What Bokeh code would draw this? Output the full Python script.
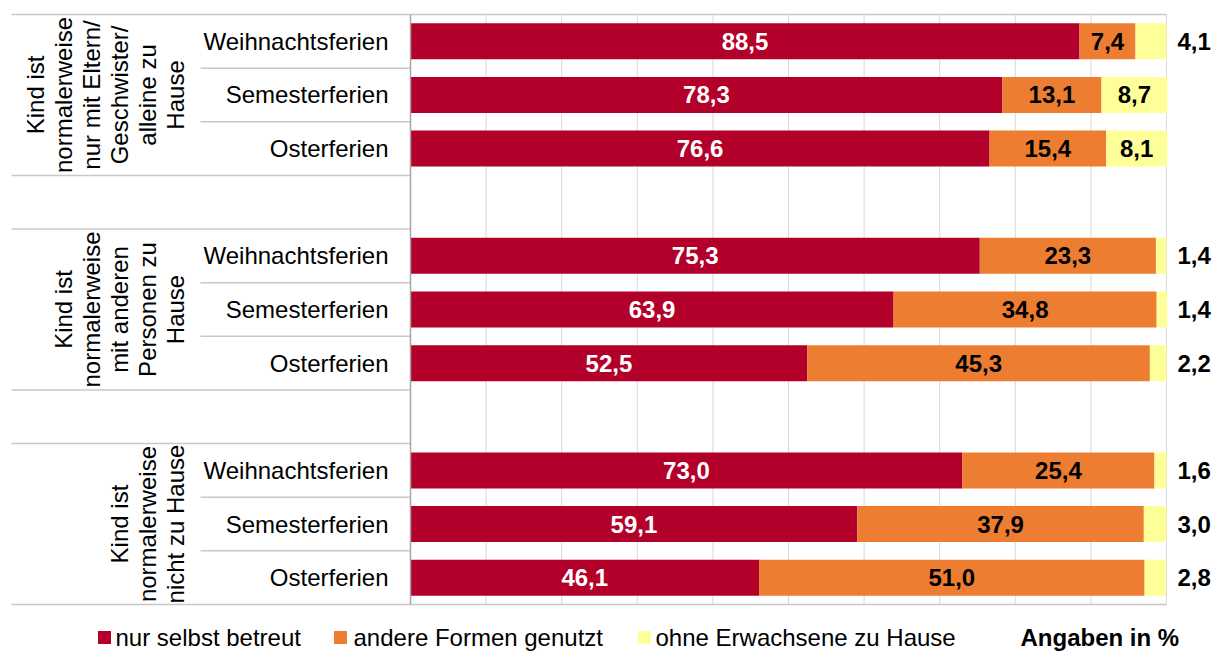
import math
from bokeh.plotting import figure
from bokeh.models import Range1d, ColumnDataSource
from bokeh.core.properties import value
from bokeh.embed import file_html
from bokeh.resources import INLINE

# ---------------- data ----------------
group_labels = [
    ["Kind ist", "normalerweise", "nur mit Eltern/", "Geschwister/", "alleine zu", "Hause"],
    ["Kind ist", "normalerweise", "mit anderen", "Personen zu", "Hause"],
    ["Kind ist", "normalerweise", "nicht zu Hause"],
]
periods = ["Weihnachtsferien", "Semesterferien", "Osterferien"]
series_names = ["nur selbst betreut", "andere Formen genutzt", "ohne Erwachsene zu Hause"]
selbst = [88.5, 78.3, 76.6, 75.3, 63.9, 52.5, 73.0, 59.1, 46.1]
andere = [7.4, 13.1, 15.4, 23.3, 34.8, 45.3, 25.4, 37.9, 51.0]
ohne = [4.1, 8.7, 8.1, 1.4, 1.4, 2.2, 1.6, 3.0, 2.8]
x_ticks = [10, 20, 30, 40, 50, 60, 70, 80, 90]
unit_note = "Angaben in %"

# ---------------- styling / layout ----------------
RED, ORANGE, YELLOW = "#B3002A", "#ED7D31", "#FFFF99"
GRID, AXIS, RULE = "#D9D9D9", "#A6A6A6", "#C8C8C8"
FONT = value("Liberation Sans")
FS = "24px"

W, H = 1214, 652
PX0, PX100 = 410, 1166      # pixel columns of 0 % and 100 %
PY0, PYN = 14, 604          # pixel rows of top / bottom of the slot area
N_SLOTS = 11
SX = (PX100 - PX0) / 100.0
SY = (PYN - PY0) / N_SLOTS


def xd(px):
    return (px - PX0) / SX


def yd(py):
    return -(py - PY0) / SY


p = figure(width=W, height=H,
           x_range=Range1d(xd(0), xd(W)), y_range=Range1d(yd(H), yd(0)),
           output_backend="svg", toolbar_location=None, min_border=0,
           x_axis_type=None, y_axis_type=None, outline_line_color=None)
p.background_fill_color = "white"
p.border_fill_color = "white"

# rows -> slots
slots = []
row_period = []
for g in range(len(group_labels)):
    for r in range(len(periods)):
        slots.append(4 * g + r)
        row_period.append(periods[r])
yc = [-(s + 0.5) for s in slots]
n_total = N_SLOTS

# vertical gridlines
p.segment(x0=x_ticks, y0=[0] * len(x_ticks), x1=x_ticks, y1=[-n_total] * len(x_ticks),
          line_color=GRID, line_width=1)
p.segment(x0=[100], y0=[0], x1=[100], y1=[-n_total], line_color=GRID, line_width=1)

# horizontal rules: top/bottom border and group separators
left_outer = xd(11)
p.segment(x0=[left_outer, left_outer], y0=[0, -n_total], x1=[100, 100], y1=[0, -n_total],
          line_color=RULE, line_width=1.5)
grp_lines = [-3, -4, -7, -8]
p.segment(x0=[left_outer] * 4, y0=grp_lines, x1=[0] * 4, y1=grp_lines,
          line_color=RULE, line_width=1.5)
inner_lines = [-1, -2, -5, -6, -9, -10]
p.segment(x0=[xd(200)] * 6, y0=inner_lines, x1=[0] * 6, y1=inner_lines,
          line_color=RULE, line_width=1.5)

# bars
end2 = [a + b for a, b in zip(selbst, andere)]
end3 = [a + b for a, b in zip(end2, ohne)]
src = ColumnDataSource(dict(y=yc, s=selbst, e2=end2, e3=end3))
BH = 36 / SY
p.hbar(y="y", left=0, right="s", height=BH, source=src, fill_color=RED, line_color=None)
p.hbar(y="y", left="s", right="e2", height=BH, source=src, fill_color=ORANGE, line_color=None)
p.hbar(y="y", left="e2", right="e3", height=BH, source=src, fill_color=YELLOW, line_color=None)

# y axis line
p.segment(x0=[0], y0=[0], x1=[0], y1=[-n_total], line_color=AXIS, line_width=1.5)


def fmt(v):
    return f"{v:.1f}".replace(".", ",")


# data labels
p.text(x=[v / 2 for v in selbst], y=yc, text=[fmt(v) for v in selbst],
       text_align="center", text_baseline="middle", text_font=FONT,
       text_font_size=FS, text_font_style="bold", text_color="white")
p.text(x=[a + b / 2 for a, b in zip(selbst, andere)], y=yc, text=[fmt(v) for v in andere],
       text_align="center", text_baseline="middle", text_font=FONT,
       text_font_size=FS, text_font_style="bold", text_color="black")
in_x, in_y, in_t, out_y, out_t = [], [], [], [], []
for i, v in enumerate(ohne):
    if v >= 5:
        in_x.append(end2[i] + v / 2)
        in_y.append(yc[i])
        in_t.append(fmt(v))
    else:
        out_y.append(yc[i])
        out_t.append(fmt(v))
p.text(x=in_x, y=in_y, text=in_t, text_align="center", text_baseline="middle",
       text_font=FONT, text_font_size=FS, text_font_style="bold", text_color="black")
p.text(x=[xd(1177)] * len(out_t), y=out_y, text=out_t, text_align="left",
       text_baseline="middle", text_font=FONT, text_font_size=FS,
       text_font_style="bold", text_color="black")

# category labels
p.text(x=[xd(388)] * len(yc), y=yc, text=row_period, text_align="right",
       text_baseline="middle", text_font=FONT, text_font_size=FS, text_color="black")

# group labels (rotated, one glyph per line)
gx, gy, gt = [], [], []
LINE = 28
for g, lines in enumerate(group_labels):
    n = len(lines)
    for k, ln in enumerate(lines):
        gx.append(xd(175 - (n - 1 - k) * LINE))
        gy.append(-(4 * g + 1.5))
        gt.append(ln)
p.text(x=gx, y=gy, text=gt, angle=math.pi / 2, text_align="center",
       text_baseline="alphabetic", text_font=FONT, text_font_size=FS, text_color="black")

# legend
LEG_Y = yd(637)
sq_px = [104, 340, 644]
tx_px = [115, 353, 655]
p.scatter(x=[xd(v) for v in sq_px], y=[LEG_Y] * 3, marker="square", size=13,
          fill_color=[RED, ORANGE, YELLOW], line_color=None)
p.text(x=[xd(v) for v in tx_px], y=[LEG_Y] * 3, text=series_names, text_align="left",
       text_baseline="middle", text_font=FONT, text_font_size=FS, text_color="black")
p.text(x=[xd(1020)], y=[yd(637)], text=[unit_note], text_align="left",
       text_baseline="middle", text_font=FONT, text_font_size=FS,
       text_font_style="bold", text_color="black")

open("out.html", "w").write(file_html(p, INLINE))
